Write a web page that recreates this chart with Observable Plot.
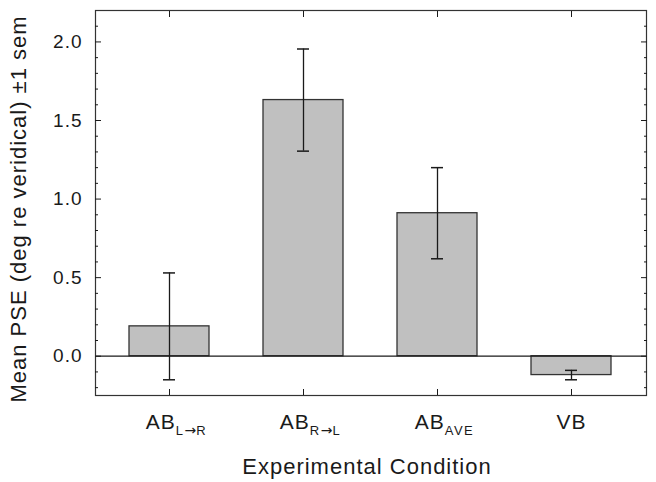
<!DOCTYPE html>
<html><head><meta charset="utf-8">
<script src="https://cdn.jsdelivr.net/npm/d3@7"></script>
<script src="https://cdn.jsdelivr.net/npm/@observablehq/plot@0.6"></script>
<style>
body{margin:0;background:#fff;}
</style></head><body><div id="chart"></div>
<script>
const conditions = ["AB_L→R", "AB_R→L", "AB_AVE", "VB"];
const means = [0.19, 1.63, 0.91, -0.12];
const sems = [0.34, 0.325, 0.29, 0.03];
const yMajorTicks = [0, 0.5, 1.0, 1.5, 2.0];
const yMinorTicks = [-0.2, -0.1, 0.1, 0.2, 0.3, 0.4, 0.6, 0.7, 0.8, 0.9, 1.1, 1.2, 1.3, 1.4, 1.6, 1.7, 1.8, 1.9, 2.1];

const data = conditions.map((c, i) => ({condition: c, mean: means[i], lo: means[i] - sems[i], hi: means[i] + sems[i]}));
const blank = () => "";
const ink = "#1a1a1a";

const chart = Plot.plot({
  width: 656, height: 482,
  marginLeft: 95, marginRight: 10, marginTop: 10, marginBottom: 87,
  style: {fontFamily: "'Liberation Sans', Arial, sans-serif", fontSize: "19px", color: ink, background: "#fff", letterSpacing: "1px"},
  x: {domain: conditions, paddingInner: 0.4, paddingOuter: 0.25},
  y: {domain: [-0.25, 2.2]},
  marks: [
    Plot.barY(data, {x: "condition", y: "mean", fill: "#c0c0c0", stroke: "#333", strokeWidth: 1.3}),
    Plot.ruleY([0], {stroke: ink, strokeWidth: 1.2}),
    Plot.ruleX(data, {x: "condition", y1: "lo", y2: "hi", stroke: ink, strokeWidth: 1.3}),
    Plot.tickY(data, {x: "condition", y: "lo", insetLeft: 34, insetRight: 34, stroke: ink, strokeWidth: 1.5}),
    Plot.tickY(data, {x: "condition", y: "hi", insetLeft: 34, insetRight: 34, stroke: ink, strokeWidth: 1.5}),
    Plot.frame({stroke: "#333", strokeWidth: 1.2}),
    Plot.axisY(yMajorTicks, {tickSize: 0, tickPadding: 13, tickFormat: d3.format(".1f"), fontSize: 19,
      label: "Mean PSE (deg re veridical) ±1 sem", labelAnchor: "center", labelArrow: "none", labelOffset: 85}),
    Plot.axisY(yMajorTicks, {tickSize: -6, tickFormat: blank, label: null}),
    Plot.axisY(yMinorTicks, {tickSize: -3, tickFormat: blank, label: null}),
    Plot.axisY(yMajorTicks, {anchor: "right", tickSize: -6, tickFormat: blank, label: null}),
    Plot.axisY(yMinorTicks, {anchor: "right", tickSize: -3, tickFormat: blank, label: null}),
    Plot.axisX({tickSize: 0, tickPadding: 19, fontSize: 21, label: "Experimental Condition", labelAnchor: "center", labelArrow: "none", labelOffset: 78}),
    Plot.axisX({tickSize: -6, tickFormat: blank, label: null}),
    Plot.axisX({anchor: "top", tickSize: -6, tickFormat: blank, label: null})
  ]
});
document.getElementById("chart").appendChild(chart);

// subscripted category labels
d3.select(chart).selectAll('g[aria-label="x-axis tick label"] text').each(function() {
  const t = d3.select(this);
  const s = t.text();
  const parts = s.split("_");
  if (parts.length < 2) return;
  t.text(null).attr("dx", 7);
  t.append("tspan").text(parts[0]);
  const pieces = parts[1].split(/(→)/);
  let first = true;
  for (const p of pieces) {
    if (!p) continue;
    const ts = t.append("tspan").attr("font-size", 13).attr("letter-spacing", p === "→" ? "0px" : "1.5px").text(p);
    if (p === "→") ts.attr("font-family", "'DejaVu Sans', sans-serif").attr("font-size", 14);
    if (first) { ts.attr("dy", "0.45em"); first = false; }
  }
});
d3.select(chart).selectAll('g[aria-label="x-axis label"] text, g[aria-label="y-axis label"] text').attr("font-size", 22);
function nudge(sel, dx, dy) {
  const g = d3.select(chart).select(sel);
  const prev = g.attr("transform") || "";
  g.attr("transform", `translate(${dx},${dy}) ${prev}`);
}
nudge('g[aria-label="x-axis label"]', -4, 0);
nudge('g[aria-label="y-axis label"]', 0, 6);
</script></body></html>
